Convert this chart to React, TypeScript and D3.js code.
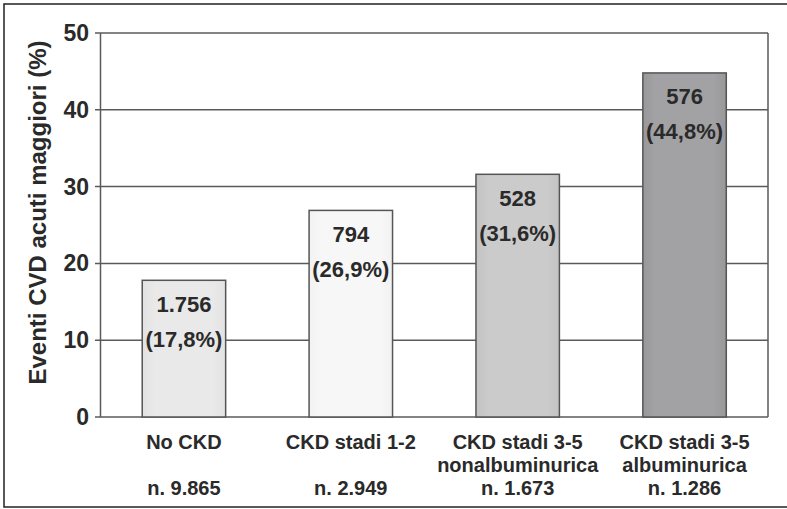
import React from "react";
import * as d3 from "d3";

const categories: string[][] = [
  ["No CKD", "", "n. 9.865"],
  ["CKD stadi 1-2", "", "n. 2.949"],
  ["CKD stadi 3-5", "nonalbuminurica", "n. 1.673"],
  ["CKD stadi 3-5", "albuminurica", "n. 1.286"],
];
const percentages: number[] = [17.8, 26.9, 31.6, 44.8];
const events: string[] = ["1.756", "794", "528", "576"];
const pctLabels: string[] = ["(17,8%)", "(26,9%)", "(31,6%)", "(44,8%)"];
const yTicks: number[] = [0, 10, 20, 30, 40, 50];
const barFills: string[][] = [
  ["#e9e9e9", "#e2e2e2"],
  ["#f7f7f7", "#f2f2f2"],
  ["#cbcbcb", "#c3c3c3"],
  ["#a2a2a4", "#98989a"],
];

const W = 787;
const H = 509;
const left = 100.5;
const right = 768;
const top = 33;
const bottom = 417;
const FONT = "'Liberation Sans', Arial, Helvetica, sans-serif";

export default function App() {
  const x = d3
    .scaleBand<number>()
    .domain(categories.map((_, i) => i))
    .range([left, right])
    .paddingInner(0.5)
    .paddingOuter(0.25);
  const y = d3.scaleLinear().domain([0, 50]).range([bottom, top]);

  return (
    <svg
      width={W}
      height={H}
      style={{ position: "absolute", left: 0, top: 0, background: "#fff" }}
      fontFamily={FONT}
    >
      <defs>
        {barFills.map((c, i) => (
          <linearGradient key={i} id={`g${i}`} x1="0" x2="1" y1="0" y2="0">
            <stop offset="0" stopColor={c[1]} />
            <stop offset="0.15" stopColor={c[0]} />
            <stop offset="0.85" stopColor={c[0]} />
            <stop offset="1" stopColor={c[1]} />
          </linearGradient>
        ))}
      </defs>
      <rect x={4} y={4} width={W + 10} height={503} fill="none" stroke="#222" strokeWidth={1.5} />
      {yTicks.map((t) => (
        <g key={t}>
          <line x1={95} x2={right} y1={y(t)} y2={y(t)} stroke="#5a5a5a" strokeWidth={1.5} />
          <text
            x={89}
            y={y(t) + 8}
            textAnchor="end"
            fontSize={23}
            fontWeight="bold"
            fill="#2a2a2a"
          >
            {t}
          </text>
        </g>
      ))}
      <line x1={left} x2={left} y1={top} y2={bottom} stroke="#5a5a5a" strokeWidth={1.5} />
      <line x1={right} x2={right} y1={top} y2={bottom} stroke="#5a5a5a" strokeWidth={1.5} />
      {percentages.map((v, i) => {
        const bx = x(i)!;
        const bw = x.bandwidth();
        const by = y(v);
        const cx = bx + bw / 2;
        return (
          <g key={i}>
            <rect
              x={bx}
              y={by}
              width={bw}
              height={y(0) - by}
              fill={`url(#g${i})`}
              stroke="#555"
              strokeWidth={1.5}
            />
            <text x={cx} y={by + 31.5} textAnchor="middle" fontSize={22} fontWeight="bold" fill="#2a2a2a">
              {events[i]}
            </text>
            <text x={cx} y={by + 66.5} textAnchor="middle" fontSize={22} fontWeight="bold" fill="#2a2a2a">
              {pctLabels[i]}
            </text>
          </g>
        );
      })}
      {categories.map((lines, i) => {
        const cx = x(i)! + x.bandwidth() / 2;
        return (
          <g key={i}>
            {lines.map((l, j) =>
              l ? (
                <text
                  key={j}
                  x={cx}
                  y={449 + j * 23}
                  textAnchor="middle"
                  fontSize={20}
                  fontWeight="bold"
                  fill="#2a2a2a"
                >
                  {l}
                </text>
              ) : null
            )}
          </g>
        );
      })}
      <text
        transform={`translate(46,212.5) rotate(-90)`}
        textAnchor="middle"
        fontSize={24}
        fontWeight="bold"
        fill="#2a2a2a"
      >
        Eventi CVD acuti maggiori (%)
      </text>
    </svg>
  );
}
